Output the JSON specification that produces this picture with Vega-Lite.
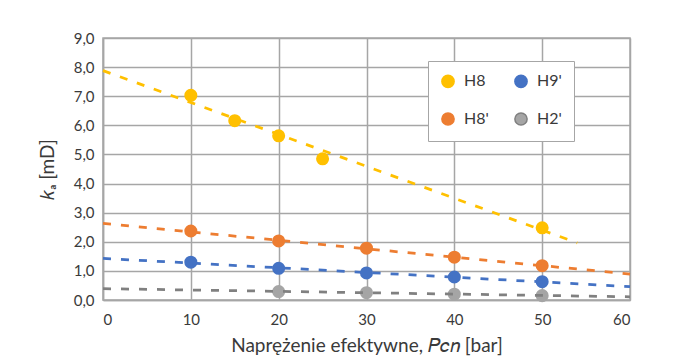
{
  "$schema": "https://vega.github.io/schema/vega-lite/v6.json",
  "width": 527,
  "height": 262,
  "autosize": "none",
  "padding": {"left": 103, "top": 38, "right": 51, "bottom": 60},
  "background": "white",
  "config": {
    "font": "Lato",
    "locale": {"number": {"decimal": ",", "thousands": " ", "grouping": [3], "currency": ["", ""]}},
    "view": {"stroke": "#a6a6a6", "strokeWidth": 1.5},
    "axis": {
      "gridColor": "#a6a6a6", "gridWidth": 1.5, "domainColor": "#a6a6a6", "domainWidth": 1.5,
      "ticks": false, "labelFontSize": 15, "labelColor": "#3a3a3a", "titleFontSize": 19,
      "titleColor": "#3a3a3a", "titleFontWeight": "normal"
    }
  },
  "datasets": {
    "pts": [
      {"p": 10, "k": 7.03, "s": "H8"}, {"p": 15, "k": 6.16, "s": "H8"}, {"p": 20, "k": 5.64, "s": "H8"},
      {"p": 25, "k": 4.85, "s": "H8"}, {"p": 50, "k": 2.48, "s": "H8"},
      {"p": 10, "k": 2.37, "s": "H8'"}, {"p": 20, "k": 2.03, "s": "H8'"}, {"p": 30, "k": 1.78, "s": "H8'"},
      {"p": 40, "k": 1.47, "s": "H8'"}, {"p": 50, "k": 1.18, "s": "H8'"},
      {"p": 10, "k": 1.30, "s": "H9'"}, {"p": 20, "k": 1.09, "s": "H9'"}, {"p": 30, "k": 0.93, "s": "H9'"},
      {"p": 40, "k": 0.79, "s": "H9'"}, {"p": 50, "k": 0.63, "s": "H9'"},
      {"p": 20, "k": 0.29, "s": "H2'"}, {"p": 30, "k": 0.25, "s": "H2'"}, {"p": 40, "k": 0.20, "s": "H2'"},
      {"p": 50, "k": 0.15, "s": "H2'"}
    ],
    "trend": [
      {"p": 0, "k": 7.88, "s": "H8"}, {"p": 54, "k": 1.96, "s": "H8"},
      {"p": 0, "k": 2.63, "s": "H8'"}, {"p": 60, "k": 0.89, "s": "H8'"},
      {"p": 0, "k": 1.43, "s": "H9'"}, {"p": 60, "k": 0.46, "s": "H9'"},
      {"p": 0, "k": 0.39, "s": "H2'"}, {"p": 60, "k": 0.11, "s": "H2'"}
    ]
  },
  "layer": [
    {
      "data": {"name": "pts"},
      "mark": {"type": "circle", "size": 170, "opacity": 1},
      "encoding": {
        "x": {"field": "p", "type": "quantitative", "scale": {"domain": [0, 60], "nice": false},
          "axis": {"values": [0, 10, 20, 30, 40, 50, 60], "labelPadding": 12, "titlePadding": 9,
            "title": "Naprężenie efektywne, 𝑃𝑐𝑛 [bar]"}},
        "y": {"field": "k", "type": "quantitative", "scale": {"domain": [0, 9], "nice": false},
          "axis": {"tickCount": 9, "labelPadding": 9, "titlePadding": 16, "labelOverlap": false,
            "format": ".1f", "title": "𝑘ₐ [mD]"}},
        "color": {"field": "s", "type": "nominal",
          "scale": {"domain": ["H8", "H8'", "H9'", "H2'"], "range": ["#ffc000", "#ed7d31", "#4472c4", "#a5a5a5"]},
          "legend": {"title": null, "orient": "none", "legendX": 325, "legendY": 23, "columns": 2,
            "symbolType": "circle", "symbolSize": 150, "labelFontSize": 16, "labelColor": "#3a3a3a",
            "fillColor": "white", "strokeColor": "#a6a6a6", "padding": 12, "rowPadding": 18,
            "columnPadding": 22, "labelOffset": 8}}
      }
    },
    {
      "data": {"name": "trend"},
      "mark": {"type": "line", "strokeDash": [8, 10], "strokeWidth": 2.75},
      "encoding": {
        "x": {"field": "p", "type": "quantitative"},
        "y": {"field": "k", "type": "quantitative"},
        "detail": {"field": "s"},
        "stroke": {"field": "s", "type": "nominal", "legend": null,
          "scale": {"domain": ["H8", "H8'", "H9'", "H2'"], "range": ["#ffc000", "#ed7d31", "#4472c4", "#808080"]}}
      }
    }
  ]
}
